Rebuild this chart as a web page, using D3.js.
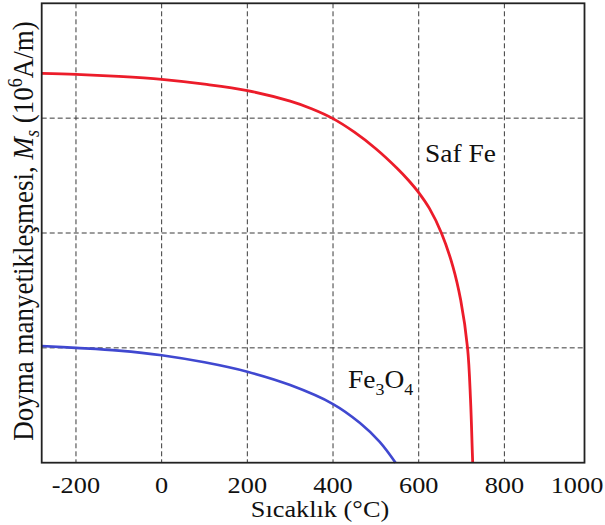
<!DOCTYPE html>
<html>
<head>
<meta charset="utf-8">
<script src="https://cdn.jsdelivr.net/npm/d3@7"></script>
<style>
  html, body { margin: 0; padding: 0; background: #fff; }
  svg { display: block; }
  text { font-family: "Liberation Serif", "Times New Roman", serif; fill: #111; }
</style>
</head>
<body>
<svg id="chart" width="605" height="525"></svg>
<script>
// Saturation magnetisation vs temperature
const tempFe   = [-280, -200, -100, 0, 100, 200, 300, 350, 400, 450, 500, 550, 575, 600, 625, 653, 680, 698, 714, 721, 725, 726];
const msFe     = [1.695, 1.691, 1.682, 1.669, 1.648, 1.620, 1.574, 1.541, 1.498, 1.439, 1.367, 1.281, 1.232, 1.176, 1.107, 1.0, 0.853, 0.708, 0.5, 0.273, 0.055, 0];
const tempFe3O4 = [-280, -200, -100, 0, 100, 200, 300, 400, 463, 509, 546];
const msFe3O4   = [0.508, 0.500, 0.488, 0.468, 0.437, 0.396, 0.338, 0.2555, 0.173, 0.091, 0];
const xTicks = [-200, 0, 200, 400, 600, 800, 1000];
const yGrid  = [0.5, 1.0, 1.5];

const W = 605, H = 525;
const plotL = 41.7, plotR = 584.5, plotT = 3.3, plotB = 462.7;
const svg = d3.select("#chart");

const x = d3.scaleLinear().domain([-280, 987]).range([plotL, plotR]);
const y = d3.scaleLinear().domain([0, 2]).range([plotB, plotT]);

// dashed grid
const grid = svg.append("g").attr("stroke", "#3a3a3a").attr("stroke-width", 1)
  .attr("stroke-dasharray", "5,3").attr("fill", "none");
grid.selectAll("line.v").data(xTicks.filter(t => x(t) < plotR - 2)).join("line")
  .attr("class", "v")
  .attr("x1", d => x(d)).attr("x2", d => x(d))
  .attr("y1", plotT).attr("y2", plotB);
grid.selectAll("line.h").data(yGrid).join("line")
  .attr("class", "h")
  .attr("x1", plotL).attr("x2", plotR)
  .attr("y1", d => y(d)).attr("y2", d => y(d));

// curves
const line = d3.line().x(d => x(d[0])).y(d => y(d[1])).curve(d3.curveCatmullRom.alpha(0.5));
svg.append("path")
  .attr("d", line(d3.zip(tempFe3O4, msFe3O4)))
  .attr("fill", "none").attr("stroke", "#4048d0").attr("stroke-width", 2.6);
svg.append("path")
  .attr("d", line(d3.zip(tempFe, msFe)))
  .attr("fill", "none").attr("stroke", "#ec1c2a").attr("stroke-width", 2.8);

// frame
svg.append("rect")
  .attr("x", plotL).attr("y", plotT)
  .attr("width", plotR - plotL).attr("height", plotB - plotT)
  .attr("fill", "none").attr("stroke", "#222").attr("stroke-width", 1.8);

const sx = 1.12; // horizontal stretch of the serif lettering

// x tick labels
svg.append("g").selectAll("text").data(xTicks).join("text")
  .attr("transform", d => `translate(${Math.min(x(d), W - 28)},492.5) scale(${sx},1)`)
  .attr("text-anchor", "middle")
  .attr("font-size", 23.5)
  .text(d => d);

// x axis title
svg.append("text")
  .attr("transform", `translate(320,517) scale(${sx},1)`)
  .attr("text-anchor", "middle")
  .attr("font-size", 23.5)
  .text("Sıcaklık (°C)");

// y axis title
const yt = svg.append("text")
  .attr("transform", `translate(33,231) scale(${sx},1) rotate(-90)`)
  .attr("text-anchor", "middle")
  .attr("font-size", 27);
yt.append("tspan").text("Doyma manyetikleşmesi, ");
yt.append("tspan").attr("font-style", "italic").text("M");
yt.append("tspan").attr("font-style", "italic").attr("font-size", 18).attr("dy", 5).text("s");
yt.append("tspan").attr("dy", -5).text(" (10");
yt.append("tspan").attr("font-size", 18).attr("dy", -10).text("6");
yt.append("tspan").attr("dy", 10).text("A/m)");

// series labels
svg.append("text")
  .attr("transform", `translate(425,162) scale(${sx},1)`)
  .attr("font-size", 24.5)
  .text("Saf Fe");

const fl = svg.append("text")
  .attr("transform", `translate(348,388) scale(${sx},1)`)
  .attr("font-size", 24.5);
fl.append("tspan").text("Fe");
fl.append("tspan").attr("font-size", 16).attr("dy", 7).text("3");
fl.append("tspan").attr("dy", -7).text("O");
fl.append("tspan").attr("font-size", 16).attr("dy", 7).text("4");
</script>
</body>
</html>
